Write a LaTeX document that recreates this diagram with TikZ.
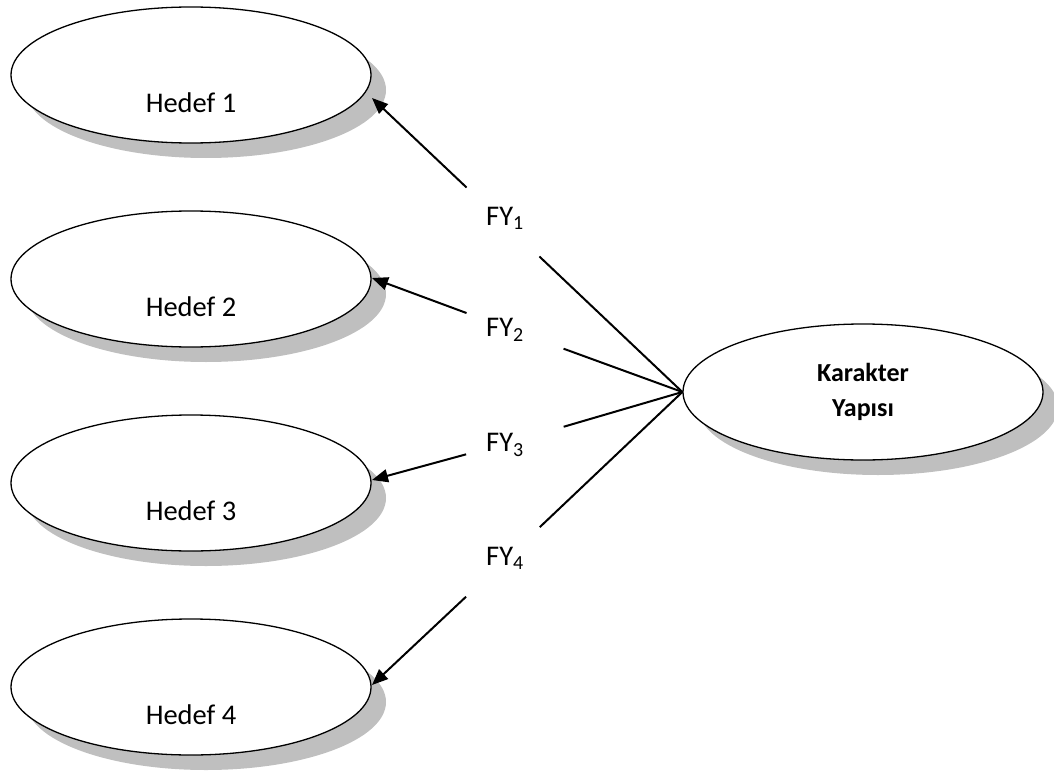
\documentclass[tikz,border=0pt]{standalone}
\usepackage{fontspec}
\setmainfont{Carlito}
\usetikzlibrary{shapes.geometric,shadows,arrows.meta}
\begin{document}
\begin{tikzpicture}[x=1pt,y=-1pt,
  goal/.style={ellipse, draw, line width=1.3pt, fill=white,
    minimum width=360pt, minimum height=136pt, inner sep=0pt,
    drop shadow={shadow xshift=15pt, shadow yshift=-15pt, fill=black!25, opacity=1}},
  txt/.style={font=\fontsize{28.5}{32}\selectfont},
  gapnode/.style={circle, inner sep=0pt, minimum size=#1},
  link/.style={line width=2pt},
  arr/.style={line width=2pt, -{Triangle[length=16pt,width=13pt]}}]
\useasboundingbox (0,0) rectangle (1054,773);

% target ellipses on the left
\node[goal] (h1) at (191,75) {};
\node[goal] (h2) at (191,279) {};
\node[goal] (h3) at (191,483) {};
\node[goal] (h4) at (191,687) {};
\node[txt] (t1) at (191,103) {Hedef 1};
\node[txt] (t2) at (191,307) {Hedef 2};
\node[txt] (t3) at (191,511) {Hedef 3};
\node[txt] (t4) at (191,715) {Hedef 4};

% source ellipse on the right
\node[goal, align=center, font=\bfseries\fontsize{26}{35}\selectfont] (kar) at (863,392) {Karakter\\Yapısı};

% arrow tips on the targets
\coordinate (e1) at (372,98);
\coordinate (e2) at (372,278);
\coordinate (e3) at (372,480);
\coordinate (e4) at (372,685);

% factor loading labels, each breaking its connector
\node[gapnode=100pt, label={[txt, xshift=2pt, yshift=4pt]center:FY\textsubscript{1}}] (fy1) at (503,222) {};
\node[gapnode=103pt, label={[txt, xshift=-10pt, yshift=1pt]center:FY\textsubscript{2}}] (fy2) at (515,331) {};
\node[gapnode=101pt, label={[txt, xshift=-10pt, yshift=-4pt]center:FY\textsubscript{3}}] (fy3) at (515,441) {};
\node[gapnode=101pt, label={[txt, xshift=2pt, yshift=4pt]center:FY\textsubscript{4}}] (fy4) at (503,562) {};

\foreach \i in {1,2,3,4} {
  \draw[link] (kar.west) -- (fy\i);
  \draw[arr] (fy\i) -- (e\i);
}
\end{tikzpicture}
\end{document}
